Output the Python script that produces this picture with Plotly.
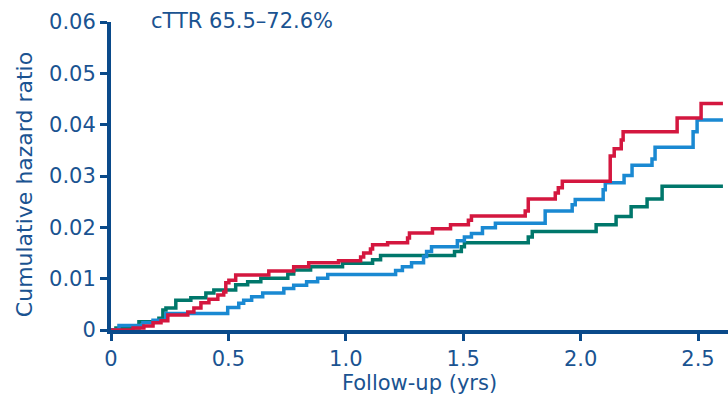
import plotly.graph_objects as go

# Follow-up time (years) and cumulative hazard values
red_t = [0, 0.094, 0.140, 0.179, 0.213, 0.242, 0.327, 0.353, 0.383, 0.417, 0.455, 0.480, 0.489,
         0.502, 0.531, 0.672, 0.778, 0.842, 0.969, 1.063, 1.076, 1.105, 1.114, 1.178, 1.263,
         1.271, 1.369, 1.446, 1.522, 1.535, 1.764, 1.777, 1.892, 1.905, 1.922, 2.126, 2.143,
         2.173, 2.181, 2.411, 2.513, 2.606]
red_v = [0, 0.0004, 0.0008, 0.0014, 0.0018, 0.0029, 0.0035, 0.0043, 0.0053, 0.0060, 0.0068,
         0.0074, 0.0092, 0.0097, 0.0107, 0.0115, 0.0123, 0.0131, 0.0135, 0.0142, 0.0150,
         0.0158, 0.0166, 0.0170, 0.0179, 0.0189, 0.0197, 0.0205, 0.0214, 0.0222, 0.0232,
         0.0255, 0.0267, 0.0277, 0.0290, 0.0339, 0.0353, 0.0370, 0.0386, 0.0413, 0.0441, 0.0441]

green_t = [0, 0.021, 0.119, 0.204, 0.221, 0.234, 0.276, 0.340, 0.404, 0.438, 0.531, 0.582, 0.638,
           0.753, 0.778, 0.850, 0.986, 1.114, 1.148, 1.463, 1.492, 1.505, 1.777, 1.794, 2.066,
           2.151, 2.215, 2.283, 2.347, 2.606]
green_v = [0, 0.0004, 0.0016, 0.0023, 0.0039, 0.0043, 0.0058, 0.0063, 0.0072, 0.0078, 0.0088,
           0.0094, 0.0101, 0.0109, 0.0117, 0.0123, 0.0130, 0.0137, 0.0145, 0.0153, 0.0162,
           0.0170, 0.0181, 0.0192, 0.0205, 0.0221, 0.0240, 0.0255, 0.0280, 0.0280]

blue_t = [0, 0.034, 0.136, 0.179, 0.234, 0.497, 0.544, 0.565, 0.599, 0.646, 0.736, 0.778, 0.833,
          0.880, 0.923, 1.212, 1.241, 1.280, 1.331, 1.344, 1.365, 1.475, 1.505, 1.535, 1.582,
          1.637, 1.849, 1.964, 1.977, 2.096, 2.105, 2.185, 2.219, 2.304, 2.317, 2.479, 2.496, 2.606]
blue_v = [0, 0.0009, 0.0014, 0.0019, 0.0032, 0.0044, 0.0052, 0.0058, 0.0065, 0.0072, 0.0081,
          0.0087, 0.0094, 0.0101, 0.0108, 0.0116, 0.0123, 0.0131, 0.0143, 0.0153, 0.0162,
          0.0174, 0.0181, 0.0188, 0.0199, 0.0208, 0.0232, 0.0244, 0.0254, 0.0273, 0.0287,
          0.0301, 0.0321, 0.0333, 0.0356, 0.0386, 0.0409, 0.0409]

x_ticks = [0, 0.5, 1.0, 1.5, 2.0, 2.5]
x_tick_labels = ["0", "0.5", "1.0", "1.5", "2.0", "2.5"]
y_ticks = [0, 0.01, 0.02, 0.03, 0.04, 0.05, 0.06]
y_tick_labels = ["0", "0.01", "0.02", "0.03", "0.04", "0.05", "0.06"]

RED = "#d4173f"
GREEN = "#00776b"
BLUE = "#1a89d2"
AXIS = "#0a4a8a"
TEXT = "#1a5391"
FONT = "DejaVu Sans"

fig = go.Figure()
for t, v, c in [(green_t, green_v, GREEN), (blue_t, blue_v, BLUE), (red_t, red_v, RED)]:
    fig.add_trace(go.Scatter(x=t, y=v, mode="lines", line=dict(color=c, width=3.5, shape="hv"),
                             showlegend=False, hoverinfo="skip"))

fig.update_layout(
    width=728, height=395,
    margin=dict(l=111, r=0, t=22, b=65),
    paper_bgcolor="white", plot_bgcolor="white",
    font=dict(family=FONT, size=21, color=TEXT),
    xaxis=dict(range=[0, 2.6276], tickvals=x_ticks, ticktext=x_tick_labels,
               showgrid=False, zeroline=False, showline=True, linecolor=AXIS, linewidth=4,
               ticks="outside", ticklen=7, tickwidth=3, tickcolor=AXIS,
               tickfont=dict(family=FONT, size=21, color=TEXT),
               title=dict(text="Follow-up (yrs)", font=dict(family=FONT, size=21, color=TEXT), standoff=3)),
    yaxis=dict(range=[0, 0.06], tickvals=y_ticks, ticktext=y_tick_labels,
               showgrid=False, zeroline=False, showline=True, linecolor=AXIS, linewidth=4,
               ticks="outside", ticklen=7, tickwidth=3, tickcolor=AXIS,
               tickfont=dict(family=FONT, size=21, color=TEXT)),
    annotations=[
        dict(text="cTTR 65.5–72.6%", xref="paper", yref="paper", x=0.0615, y=1.003,
             xanchor="left", yanchor="middle", showarrow=False,
             font=dict(family=FONT, size=21, color=TEXT)),
        dict(text="Cumulative hazard ratio", xref="paper", yref="paper", x=-0.139, y=0.471,
             xanchor="center", yanchor="middle", textangle=-90, showarrow=False,
             font=dict(family=FONT, size=22, color=TEXT)),
    ],
)

fig.write_html("out.html")
